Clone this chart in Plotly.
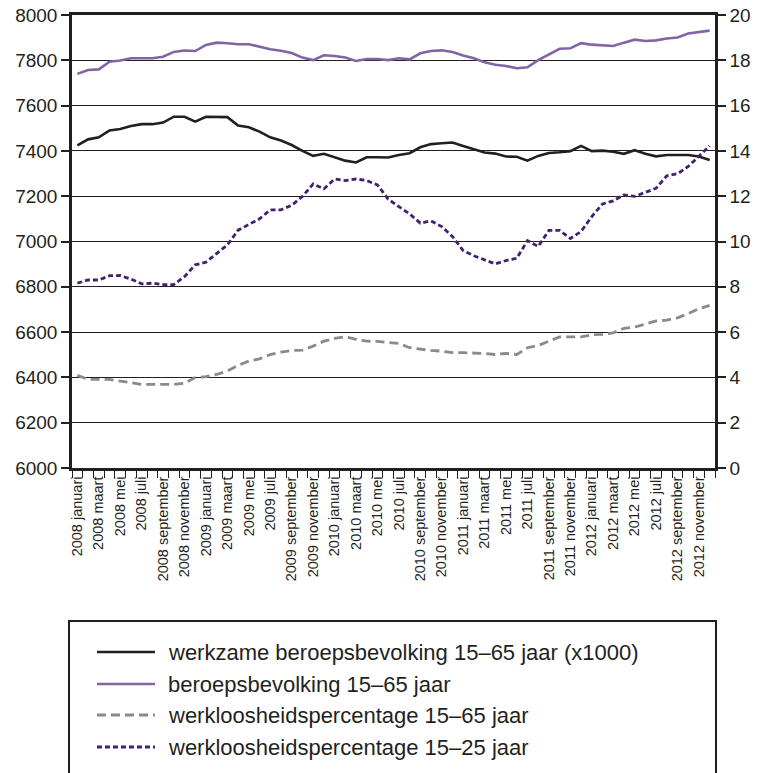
import plotly.graph_objects as go

# ---------------- data ----------------
month_names = ["januari", "februari", "maart", "april", "mei", "juni", "juli",
               "augustus", "september", "oktober", "november", "december"]
years = [2008, 2009, 2010, 2011, 2012]
months = [f"{y} {m}" for y in years for m in month_names]

werkzame_15_65 = [7424, 7451, 7460, 7490, 7497, 7510, 7518, 7518, 7525, 7551,
                  7551, 7529, 7551, 7551, 7549, 7512, 7504, 7485, 7460, 7446,
                  7426, 7400, 7378, 7387, 7372, 7357, 7349, 7372, 7372, 7371,
                  7382, 7390, 7416, 7430, 7434, 7437, 7422, 7407, 7393, 7388,
                  7375, 7374, 7357, 7378, 7391, 7394, 7399, 7422, 7399, 7401,
                  7396, 7387, 7403, 7387, 7376, 7382, 7382, 7382, 7375, 7360]

beroeps_15_65 = [7740, 7757, 7760, 7794, 7799, 7809, 7809, 7809, 7816, 7837,
                 7843, 7841, 7868, 7878, 7875, 7871, 7871, 7860, 7849, 7842,
                 7832, 7812, 7801, 7822, 7819, 7812, 7797, 7806, 7806, 7801,
                 7809, 7804, 7831, 7841, 7844, 7837, 7821, 7809, 7791, 7780,
                 7775, 7765, 7769, 7801, 7826, 7851, 7853, 7876, 7869, 7866,
                 7863, 7878, 7891, 7885, 7888, 7896, 7901, 7918, 7924, 7931]

werkloos_15_65 = [4.09, 3.91, 3.91, 3.91, 3.84, 3.76, 3.69, 3.69, 3.69, 3.69,
                  3.74, 3.99, 4.03, 4.13, 4.28, 4.53, 4.72, 4.82, 5.01, 5.12,
                  5.19, 5.20, 5.38, 5.60, 5.72, 5.79, 5.68, 5.60, 5.59, 5.53,
                  5.50, 5.31, 5.24, 5.19, 5.16, 5.09, 5.09, 5.09, 5.06, 5.01,
                  5.06, 5.01, 5.31, 5.41, 5.60, 5.79, 5.79, 5.79, 5.88, 5.90,
                  5.97, 6.16, 6.22, 6.37, 6.49, 6.53, 6.63, 6.82, 7.03, 7.18]

werkloos_15_25 = [8.16, 8.30, 8.30, 8.49, 8.50, 8.34, 8.13, 8.16, 8.10, 8.10,
                  8.45, 8.97, 9.09, 9.49, 9.85, 10.50, 10.76, 11.00, 11.40, 11.40,
                  11.60, 11.99, 12.54, 12.32, 12.76, 12.69, 12.76, 12.69, 12.50, 11.87,
                  11.54, 11.22, 10.81, 10.91, 10.66, 10.22, 9.60, 9.37, 9.19, 9.01,
                  9.16, 9.26, 10.04, 9.78, 10.49, 10.49, 10.13, 10.44, 11.10, 11.66,
                  11.79, 12.06, 11.99, 12.16, 12.35, 12.90, 12.99, 13.31, 13.75, 14.22]

left_ticks = list(range(6000, 8001, 200))
right_ticks = list(range(0, 21, 2))

names = ["werkzame beroepsbevolking 15\u201365 jaar (x1000)",
         "beroepsbevolking 15\u201365 jaar",
         "werkloosheidspercentage 15\u201365 jaar",
         "werkloosheidspercentage 15\u201325 jaar"]

# ---------------- styling ----------------
FONT = "Liberation Sans, Arial, Helvetica, sans-serif"
TXT = "#231f20"
styles = [
    dict(color="#231f20", width=2.6, dash="solid"),
    dict(color="#8064a6", width=2.6, dash="solid"),
    dict(color="#8a8a8c", width=2.8, dash="9px,5px"),
    dict(color="#43216f", width=2.8, dash="5px,3px"),
]

# the page body has an 8px margin, so the figure is offset by 8px
OFF = 8
W, H = 758 - OFF, 773 - OFF
ML, MT = 72 - OFF, 15 - OFF
MR = W - (715 - OFF)
MB = H - (468 - OFF)
x_idx = list(range(len(months)))

fig = go.Figure()
series = [(werkzame_15_65, "y"), (beroeps_15_65, "y"),
          (werkloos_15_65, "y2"), (werkloos_15_25, "y2")]
for (vals, ax), nm, st in zip(series, names, styles):
    fig.add_trace(go.Scatter(x=x_idx, y=vals, yaxis=ax, name=nm, mode="lines",
                             line=st, customdata=months,
                             hovertemplate="%{customdata}: %{y}<extra></extra>",
                             showlegend=False))

fig.update_layout(
    width=W, height=H,
    margin=dict(l=ML, r=MR, t=MT, b=MB, pad=0, autoexpand=False),
    plot_bgcolor="white", paper_bgcolor="white",
    font=dict(family=FONT, color=TXT, size=18),
    xaxis=dict(
        automargin=False, ticklabeloverflow="allow",
        range=[-0.5, len(months) - 0.5],
        tickmode="array", tickvals=x_idx[::2], ticktext=months[::2],
        tickangle=-90, tickfont=dict(size=14.5),
        ticks="", showgrid=False, zeroline=False,
        showline=True, linecolor="#231f20", linewidth=2.5, mirror=True,
        minor=dict(ticks="outside", tickmode="linear", tick0=-0.5, dtick=1,
                   ticklen=7, tickwidth=1.3, tickcolor="#231f20", showgrid=False),
    ),
    yaxis=dict(
        automargin=False, ticklabeloverflow="allow",
        range=[6000, 8000], tickmode="array", tickvals=left_ticks,
        ticks="outside", ticklen=8, tickwidth=1.5, tickcolor="#231f20",
        tickfont=dict(size=19),
        showgrid=True, gridcolor="#231f20", gridwidth=1.4,
        zeroline=False, showline=True, linecolor="#231f20", linewidth=2.5,
    ),
    yaxis2=dict(
        automargin=False, ticklabeloverflow="allow",
        range=[0, 20], tickmode="array", tickvals=right_ticks,
        overlaying="y", side="right",
        ticks="outside", ticklen=8, tickwidth=1.5, tickcolor="#231f20",
        tickfont=dict(size=19),
        showgrid=False, zeroline=False, showline=True,
        linecolor="#231f20", linewidth=2.5,
    ),
)

# ------------- legend box drawn in (screen) pixel space -------------
PW, PH = W - ML - MR, H - MT - MB


def px_x(px):
    return (px - OFF - ML) / PW


def px_y(py):
    return 1 - (py - OFF - MT) / PH


shapes = [dict(type="rect", xref="paper", yref="paper",
               x0=px_x(69), x1=px_x(716), y0=px_y(621), y1=px_y(800),
               line=dict(color="#231f20", width=2), fillcolor="rgba(0,0,0,0)")]
annotations = []
rows = [652, 684, 715, 747]
for nm, st, ry in zip(names, styles, rows):
    shapes.append(dict(type="line", xref="paper", yref="paper",
                       x0=px_x(97), x1=px_x(155), y0=px_y(ry), y1=px_y(ry),
                       line=dict(color=st["color"], width=st["width"],
                                 dash=st["dash"])))
    annotations.append(dict(xref="paper", yref="paper", x=px_x(166), y=px_y(ry),
                            text=nm, showarrow=False, xanchor="left",
                            yanchor="middle",
                            font=dict(size=22, family=FONT, color=TXT)))
fig.update_layout(shapes=shapes, annotations=annotations)

fig.write_html("out.html")
